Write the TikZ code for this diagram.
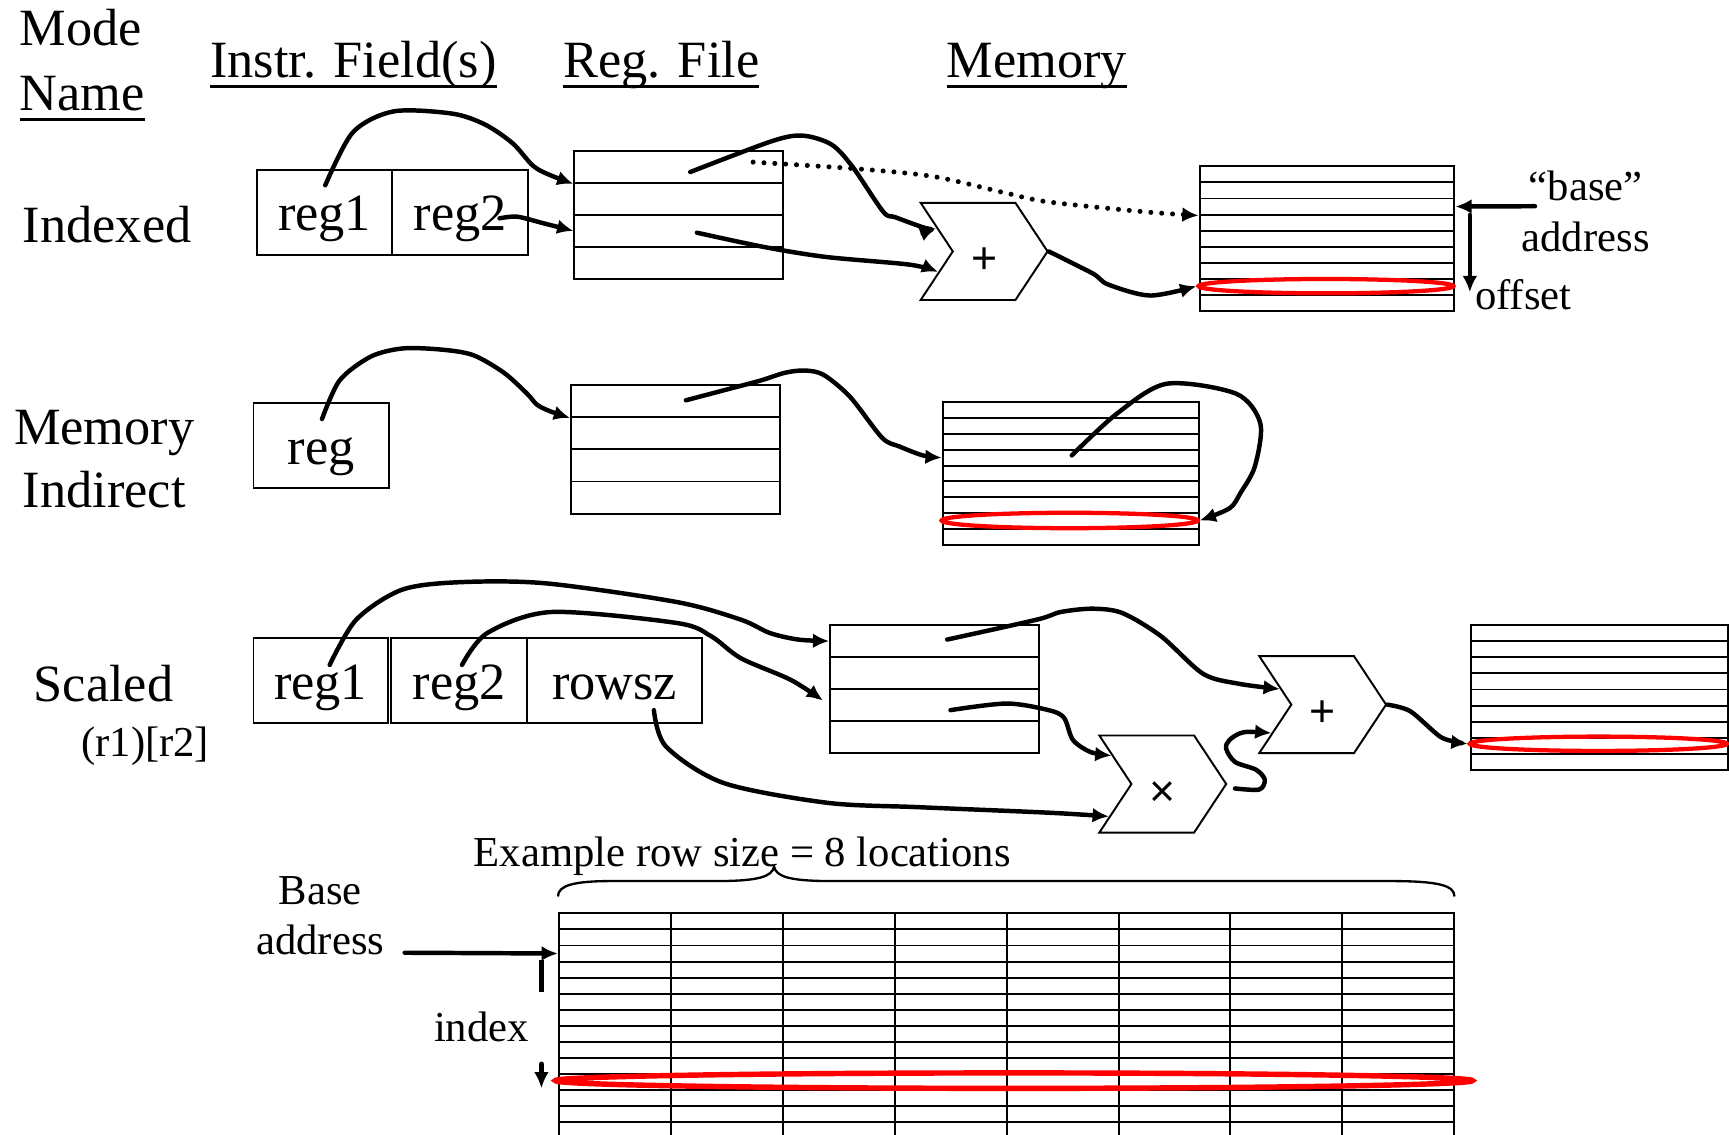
\documentclass[tikz,border=0pt]{standalone}
\usepackage{fontspec}
\setmainfont{Liberation Serif}
\newfontfamily\opfont{Liberation Sans}
\usetikzlibrary{positioning, shapes.geometric, shapes.symbols, arrows.meta}

\newcommand{\bigtext}{\fontsize{13.5}{16}\selectfont}
\newcommand{\smalltext}{\fontsize{11}{13}\selectfont}
\newcommand{\ulined}[1]{\setbox0\hbox{#1}\rlap{\rule[-2.8pt]{\wd0}{0.7pt}}\box0}

\begin{document}
\begin{tikzpicture}[
    x=0.01cm, y=-0.01cm,
    font=\bigtext,
    txt/.style={anchor=base west, inner sep=0pt},
    note/.style={inner sep=0pt, font=\smalltext},
    field/.style={draw, line width=0.5pt, inner sep=0pt, anchor=north west, minimum height=0.77cm, text height=0.36cm, text depth=0.02cm},
    cell/.style={draw, line width=0.5pt, inner sep=0pt, anchor=north west},
    unit/.style={signal, signal from=west, signal to=east, signal pointer angle=113, draw, line width=0.5pt, inner sep=0pt, minimum width=1.15cm, minimum height=0.88cm, text height=0.4cm, text depth=0cm, font=\opfont\fontsize{11.5}{13}\selectfont},
    ring/.style={ellipse, draw=red, line width=1.1pt, inner sep=0pt},
    wire/.style={-{Latex[length=4.2pt, width=3.8pt]}, line width=1.15pt, line cap=round, line join=round},
    dotwire/.style={wire, line width=1.3pt, dash pattern=on 0pt off 2.8pt}
]
\useasboundingbox (0,0) rectangle (1568,1029);

% Headings
\node[txt] (mode) at (17,41) {Mode};
\node[txt] (name) at (17,100) {\ulined{Name}};
\node[txt] (hfield) at (190,70) {\ulined{Instr. Field(s)}};
\node[txt] (hreg) at (510,70) {\ulined{Reg. File}};
\node[txt] (hmem) at (858,70) {\ulined{Memory}};

% Indexed
\node[txt] (indexed) at (20,219.5) {Indexed};
\node[field, minimum width=1.23cm] (ixreg1) at (232,153) {reg1};
\node[field, minimum width=1.23cm] (ixreg2) at (355,153) {reg2};
\foreach \i in {1,...,4}
  \node[cell, minimum width=1.89cm, minimum height=0.29cm] (ixrf\i) at (520,{136+29*(\i-1)}) {};
\foreach \i in {1,...,9}
  \node[cell, minimum width=2.31cm, minimum height=0.1456cm] (ixm\i) at (1087,{150+14.56*(\i-1)}) {};
\node[ring, minimum width=2.31cm, minimum height=0.13cm] (ixsel) at (1202.5,259.5) {};
\node[unit] (ixadd) at (892.5,228) {+};
\node[note, anchor=base] (ixbase) at (1438,181.5) {``base''};
\node[note, anchor=base] (ixaddr) at (1438,228.3) {address};
\node[note, anchor=base west] (ixoff) at (1337,281) {offset};
\coordinate (ixr1) at (295,168);
\coordinate (ixr2) at (453,198);
\coordinate (ixa) at (626,156);
\coordinate (ixb) at (632,211);
\coordinate (ixd) at (683,147);
\coordinate (ixbs) at (1392,187);
\coordinate (ixo1) at (1333,195);
\coordinate (ixo2) at (1333,265);
\draw[wire] plot[smooth, tension=0.5] coordinates {(ixr1) (320,120) (357,101) (410,103) (440,113) (465,130) (483,150) (497,158) (ixrf1.south west)};
\draw[wire] plot[smooth, tension=0.5] coordinates {(ixr2) (469,196.5) (493,202.5) (ixrf3.west)};
\draw[wire] plot[smooth, tension=0.5] coordinates {(ixa) (700,128) (728,123) (754,131) (773,151) (801,192) (812,197) (840,207) (ixadd.154)};
\draw[wire] plot[smooth, tension=0.5] coordinates {(ixb) (693,224) (749,233) (825,240) (ixadd.204)};
\draw[dotwire] plot[smooth, tension=0.5] coordinates {(ixd) (776,153) (846,160) (912,175) (950,183) (1037,192) (ixm3.south west)};
\draw[wire] plot[smooth, tension=0.5] coordinates {(ixadd.east) (991,248) (1005,258) (1043,268) (ixsel.west)};
\draw[wire] (ixbs) -- (ixm3.east);
\draw[wire] (ixo1) -- (ixo2);

% Memory Indirect
\node[txt] (memory) at (12,403) {Memory};
\node[txt] (indirect) at (20,460) {Indirect};
\node[field, minimum width=1.23cm] (mireg) at (229,365) {reg};
\foreach \i in {1,...,4}
  \node[cell, minimum width=1.89cm, minimum height=0.2925cm] (mirf\i) at (517,{348+29.25*(\i-1)}) {};
\foreach \i in {1,...,9}
  \node[cell, minimum width=2.32cm, minimum height=0.1433cm] (mim\i) at (854,{364+14.33*(\i-1)}) {};
\node[ring, minimum width=2.32cm, minimum height=0.14cm] (misel) at (970,472) {};
\coordinate (mir) at (292,380);
\coordinate (mia) at (622,363);
\coordinate (mib) at (972,413);
\draw[wire] plot[smooth, tension=0.5] coordinates {(mir) (308,345) (336,323.5) (365,316) (400,317) (429,322) (457,338) (478,357) (487,367) (499,373) (mirf1.south west)};
\draw[wire] plot[smooth, tension=0.5] coordinates {(mia) (660,353) (690,345) (712,338) (730,336) (747,340) (771,360) (800,397) (816,405) (837,413) (mim4.west)};
\draw[wire] plot[smooth, tension=0.5] coordinates {(mib) (1013,375) (1058,348) (1121,357) (1143,384) (1138,423) (1125,447) (1115,461) (misel.east)};

% Scaled
\node[txt] (scaled) at (30,636) {Scaled};
\node[txt, font=\smalltext] (scnote) at (73,686) {(r1)[r2]};
\node[field, minimum width=1.215cm] (screg1) at (229,578) {reg1};
\node[field, minimum width=1.23cm] (screg2) at (354,578) {reg2};
\node[field, minimum width=1.59cm] (scrow) at (477,578) {rowsz};
\foreach \i in {1,...,4}
  \node[cell, minimum width=1.89cm, minimum height=0.29cm] (scrf\i) at (752,{566+29*(\i-1)}) {};
\foreach \i in {1,...,9}
  \node[cell, minimum width=2.33cm, minimum height=0.146cm] (scm\i) at (1333,{566+14.6*(\i-1)}) {};
\node[ring, minimum width=2.33cm, minimum height=0.13cm] (scsel) at (1449.5,674.5) {};
\node[unit] (scmul) at (1054.5,711) {×};
\node[unit] (scadd) at (1199.5,639) {+};
\coordinate (scr1) at (299,603);
\coordinate (scr2) at (419,603);
\coordinate (scrs) at (593,644);
\coordinate (sca) at (859,580);
\coordinate (scb) at (862,644);
\coordinate (scmo) at (1120,715);
\draw[wire] plot[smooth, tension=0.5] coordinates {(scr1) (323,562) (364,535) (416,528) (495,529) (614,546) (672,562) (698,574) (724,580) (scrf1.west)};
\draw[wire, shorten >=2pt] plot[smooth, tension=0.5] coordinates {(scr2) (442,574) (500,555) (614,565) (645,577) (672,597) (718,617) (scrf3.west)};
\draw[wire] plot[smooth, tension=0.5] coordinates {(scrs) (604,677) (656,710) (750,728) (833,732) (951,737) (scmul.211)};
\draw[wire] plot[smooth, tension=0.5] coordinates {(sca) (940,562) (962,555) (991,552) (1018,556) (1053,577) (1091,611) (1123,620) (scadd.160)};
\draw[wire] plot[smooth, tension=0.5] coordinates {(scb) (913,638) (951,644) (965,651) (973,671) (989,682) (scmul.151)};
\draw[wire] plot[smooth, tension=0.5] coordinates {(scmo) (1142,716) (1147,707) (1139,698) (1120,691) (1112,679) (1115,671) (1128,664) (scadd.209)};
\draw[wire] plot[smooth, tension=0.5] coordinates {(scadd.east) (1279,645) (1306,668) (1322,673) (scsel.west)};

% Row layout example
\node[note, anchor=base west] (example) at (429,786) {Example row size = 8 locations};
\node[note, anchor=base] (base) at (290.5,820.7) {Base};
\node[note, anchor=base] (baddr) at (290.5,866) {address};
\node[note, anchor=base west] (index) at (393,944.7) {index};
\foreach \r in {1,...,14}
  \foreach \c in {1,...,8}
    \node[cell, minimum width=1.015cm, minimum height=0.1457cm] (g-\r-\c) at ({506+101.5*(\c-1)},{827.4+14.57*(\r-1)}) {};
\node[ring, line width=1.4pt, minimum width=8.31cm, minimum height=0.14cm] (gsel) at (919.5,980) {};
\draw[line width=0.6pt] (506,813) .. controls (506,803) and (520,799) .. (555,799) -- (650,799)
  .. controls (688,799) and (700,795) .. (702,786) .. controls (704,795) and (716,799) .. (754,799)
  -- (1260,799) .. controls (1305,799) and (1319,803) .. (1319,813);
\coordinate (gb) at (367,864);
\coordinate (gi1) at (491,871);
\coordinate (gi2) at (491,900);
\coordinate (gi3) at (491,965);
\coordinate (gi4) at (491,987);
\draw[wire] (gb) -- (g-3-1.west);
\draw[line width=1.3pt] (gi1) -- (gi2);
\draw[wire, line width=1.3pt] (gi3) -- (gi4);

\end{tikzpicture}
\end{document}
